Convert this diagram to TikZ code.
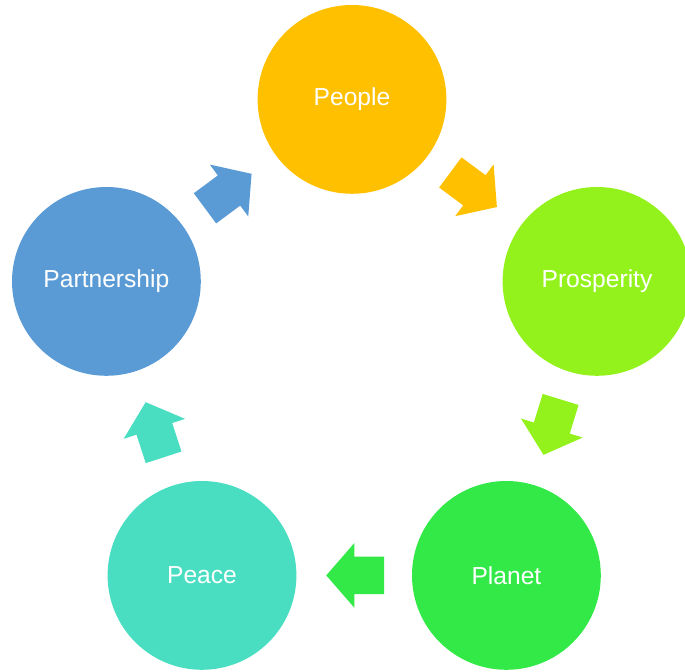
\documentclass[tikz,border=0pt]{standalone}
\usepackage{fontspec}
\setmainfont{Liberation Sans}
\usepackage{xcolor}
\usepackage{tikz}
\usetikzlibrary{positioning}
\usetikzlibrary{shapes.arrows}

\definecolor{peoplecol}{HTML}{FFC000}
\definecolor{prospcol}{HTML}{94F21C}
\definecolor{planetcol}{HTML}{32E948}
\definecolor{peacecol}{HTML}{49DDC2}
\definecolor{partcol}{HTML}{5B9BD5}

\tikzset{
  goal/.style={circle, fill=#1, draw=none, minimum size=4.72cm, inner sep=0pt,
    text=white, font=\fontsize{17.5}{21}\selectfont},
  flow/.style={single arrow, fill=#1, draw=none, minimum height=1.45cm,
    inner xsep=0pt, inner ysep=0.4625cm, single arrow head extend=0.3375cm,
    single arrow tip angle=98, sloped, allow upside down, pos=0.42}
}

\begin{document}
\begin{tikzpicture}
          \useasboundingbox (0,0) rectangle (17.125,16.775);
          % the five circles
          \node[goal=peoplecol] (people) at (8.8,14.29) {People};
          \node[goal=prospcol] (prosperity) at (14.925,9.74) {Prosperity};
          \node[goal=planetcol] (planet) at (12.66,2.39) {Planet};
          \node[goal=peacecol] (peace) at (5.05,2.39) {Peace};
          \node[goal=partcol] (partnership) at (2.66,9.74) {Partnership};
          % block arrows between them
          \path (partnership) -- (people) node[flow=partcol] (a1) {};
          \path (people) -- (prosperity) node[flow=peoplecol] (a2) {};
          \path (prosperity) -- (planet) node[flow=prospcol] (a3) {};
          \path (planet) -- (peace) node[flow=planetcol] (a4) {};
          \path (peace) -- (partnership) node[flow=peacecol] (a5) {};
        \end{tikzpicture}
\end{document}
